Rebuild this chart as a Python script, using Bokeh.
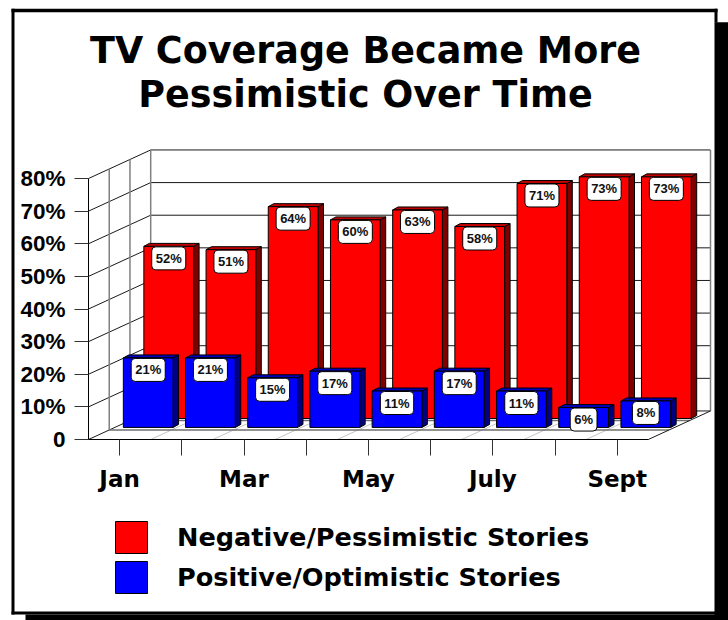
from bokeh.core.properties import value
from bokeh.embed import file_html
from bokeh.models import (BoxAnnotation, ColumnDataSource, FixedTicker, Label, Legend,
                          LegendItem, LinearAxis, Range1d)
from bokeh.plotting import figure
from bokeh.resources import INLINE

months = ["Jan", "Feb", "Mar", "Apr", "May", "Jun", "July", "Aug", "Sept"]
negative = [52, 51, 64, 60, 63, 58, 71, 73, 73]
positive = [21, 21, 15, 17, 11, 17, 11, 6, 8]
value_ticks = [0, 10, 20, 30, 40, 50, 60, 70, 80]
value_tick_labels = ["0", "10%", "20%", "30%", "40%", "50%", "60%", "70%", "80%"]
month_tick_labels = ["Jan", "", "Mar", "", "May", "", "July", "", "Sept"]
title_lines = ["TV Coverage Became More", "Pessimistic Over Time"]
negative_name = "Negative/Pessimistic Stories"
positive_name = "Positive/Optimistic Stories"

FONT = "DejaVu Sans"
W, H = 728, 620
LEFT, BOTTOM = 88, 439   # canvas position of the chart's front-left zero corner
PX_PER_MONTH = 62.2
PX_PER_PCT = 3.2625      # axis scale
BAR_PX_PER_PCT = 3.31    # bar scale
DEPTH_X = 1.0            # wall depth, in months
DEPTH_Y = 8.75           # wall depth, in percent

x_start = -0.5 - LEFT / PX_PER_MONTH
p = figure(width=W, height=H, output_backend="svg", toolbar_location=None,
           x_range=Range1d(x_start, x_start + W / PX_PER_MONTH),
           y_range=Range1d(-(H - BOTTOM) / PX_PER_PCT, BOTTOM / PX_PER_PCT),
           min_border=0, x_axis_type=None, y_axis_type=None, outline_line_color=None,
           background_fill_color="white", border_fill_color="white")
p.extra_y_ranges["bars"] = Range1d(-(H - BOTTOM) / BAR_PX_PER_PCT, BOTTOM / BAR_PX_PER_PCT)
p.grid.visible = False

# page card: black rule and drop shadow, as strips around the white page
for l, r, t, b in ((11, 717, 8.3, 11.7), (11, 14, 8.3, 614), (714, 717, 8.3, 22),
                   (714, W, 21.7, H), (11, W, 611, 614), (25, W, 614, H)):
    p.add_layout(BoxAnnotation(left=l, right=r, top=t, bottom=b,
                               left_units="canvas", right_units="canvas", top_units="canvas",
                               bottom_units="canvas", fill_color="black", fill_alpha=1,
                               line_color=None))

# back wall and side wall rules for each value tick
x_front, x_back = -0.5, -0.5 + DEPTH_X
x_end = x_front + len(months)
ink = "#1a1a1a"
p.segment(x0=[x_back] * len(value_ticks), x1=[x_end + DEPTH_X] * len(value_ticks),
          y0=[v + DEPTH_Y for v in value_ticks], y1=[v + DEPTH_Y for v in value_ticks],
          line_color=ink, line_width=1)
p.segment(x0=[x_front] * len(value_ticks), x1=[x_back] * len(value_ticks),
          y0=value_ticks, y1=[v + DEPTH_Y for v in value_ticks], line_color=ink, line_width=1)

# wall uprights
for d in (1 / 3, 2 / 3, 1):
    p.line([x_front + d * DEPTH_X] * 2, [d * DEPTH_Y, value_ticks[-1] + d * DEPTH_Y],
           line_color="#808080", line_width=1.5)
p.line([x_end + DEPTH_X] * 2, [DEPTH_Y, value_ticks[-1] + DEPTH_Y], line_color="#808080", line_width=1.5)

# floor: rules running into the depth, then rules across it
for k in range(1, len(months)):
    p.line([x_front + k, x_front + k + DEPTH_X], [0, DEPTH_Y], line_color="#c4c4c4", line_width=1)
for d in (1 / 3, 2 / 3):
    p.line([x_front + d * DEPTH_X, x_end + d * DEPTH_X], [d * DEPTH_Y] * 2, line_color="#707070", line_width=1.5)
p.line([x_end, x_end + DEPTH_X], [0, DEPTH_Y], line_color=ink, line_width=1)


def draw_bars(offset, base, values, face, side, cap):
    """One series of 3D bars; base is in percent above the axis zero."""
    half = 0.4
    dx, dy = 0.088, 0.9
    centers = [i + offset for i in range(len(values))]
    tops = [base + v for v in values]
    side_xs = [[c + half, c + half + dx, c + half + dx, c + half] for c in centers]
    side_ys = [[base, base + dy, t + dy, t] for t in tops]
    cap_xs = [[c - half, c - half + dx, c + half + dx, c + half] for c in centers]
    cap_ys = [[t, t + dy, t + dy, t] for t in tops]
    outline = dict(line_color="black", line_width=1, y_range_name="bars")
    p.patches(side_xs, side_ys, fill_color=side, **outline)
    p.patches(cap_xs, cap_ys, fill_color=cap, **outline)
    return p.vbar(x=centers, width=2 * half, bottom=base, top=tops, fill_color=face, **outline), centers, tops


neg_bars, neg_x, neg_top = draw_bars(0.79, 6.35, negative, "#ff0000", "#800000", "#c00000")
pos_bars, pos_x, pos_top = draw_bars(0.46, 3.65, positive, "#0000ff", "#000080", "#0000c0")

# value tags on the bars
tag_source = ColumnDataSource(dict(
    x=neg_x + pos_x, y=neg_top + pos_top,
    text=[f"{v}%" for v in negative + positive]))
p.text(x="x", y="y", text="text", source=tag_source, y_range_name="bars", y_offset=12,
       text_align="center", text_baseline="middle", text_font=value("Liberation Sans"),
       text_font_style="bold", text_font_size="13px", text_color="#111111",
       background_fill_color="white", border_line_color="black", border_line_width=1,
       padding=(4, 4), border_radius=4)

y_axis = LinearAxis(ticker=FixedTicker(ticks=value_ticks), fixed_location=-0.5,
                    major_label_overrides=dict(zip(value_ticks, value_tick_labels)),
                    bounds=(0, 80), axis_line_color="black", major_tick_line_color="#333333",
                    major_tick_in=0, major_tick_out=14, minor_tick_line_color=None,
                    major_label_standoff=9, major_label_text_font="Liberation Sans",
                    major_label_text_font_style="bold", major_label_text_font_size="22.5px",
                    major_label_text_color="black")
p.add_layout(y_axis, "left")
x_axis = LinearAxis(ticker=FixedTicker(ticks=list(range(len(months)))), fixed_location=0,
                    major_label_overrides=dict(enumerate(month_tick_labels)),
                    bounds=(-0.5, 8.5), axis_line_color="black", major_tick_line_color="#333333",
                    major_tick_in=0, major_tick_out=16, minor_tick_line_color=None,
                    major_label_standoff=10, major_label_text_font=FONT,
                    major_label_text_font_style="bold", major_label_text_font_size="23px",
                    major_label_text_color="black")
p.add_layout(x_axis, "below")

# title lines in canvas pixels
for line, cy in zip(title_lines, (49.5, 93.5)):
    p.add_layout(Label(x=365, y=H - cy, x_units="screen", y_units="screen", text=line,
                       text_align="center", text_baseline="middle", text_font=FONT,
                       text_font_style="bold", text_font_size="36.5px", text_color="black"))

# the swatch fills 80% of the glyph box, so a 40px box gives a 32px square
legend = Legend(items=[LegendItem(label=negative_name, renderers=[neg_bars]),
                       LegendItem(label=positive_name, renderers=[pos_bars])],
                location=(111, H - 597), orientation="vertical",
                glyph_width=40, glyph_height=40, spacing=-1, label_standoff=26, margin=0, padding=0,
                border_line_color=None, background_fill_color=None,
                label_text_font=FONT, label_text_font_style="bold", label_text_font_size="25.6px",
                label_text_color="black")
p.add_layout(legend)

open("out.html", "w").write(file_html(p, INLINE))
